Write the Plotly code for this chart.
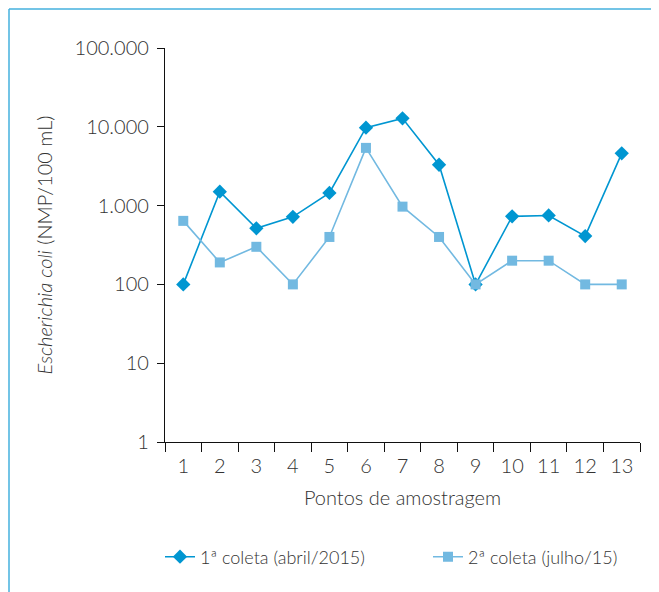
import plotly.graph_objects as go

pontos = [str(i) for i in range(1, 14)]
coleta1 = [100, 1500, 515, 720, 1450, 9750, 12800, 3300, 100, 730, 750, 410, 4600]
coleta2 = [640, 190, 300, 100, 400, 5400, 970, 400, 100, 200, 200, 100, 100]
nome1 = "1ª coleta (abril/2015)"
nome2 = "2ª coleta (julho/15)"
ytickvals = [1, 10, 100, 1000, 10000, 100000]
yticktext = ["1", "10", "100", "1.000", "10.000", "100.000"]

c1 = "#0096d1"
c2 = "#72b9e1"
frame = "#45b0de"
txt = "#333333"
font = "Lato"

# page body has an 8px offset
OFF = 8
W, H = 659, 592
ml, mt = 165 - OFF, 48 - OFF
mr = W - (640 - OFF)
mb = H - (442 - OFF)
pw = W - ml - mr
ph = H - mt - mb

def px2paper_x(px):
    return (px - OFF - ml) / pw

def px2paper_y(py):
    return (H - mb - (py - OFF)) / ph

fig = go.Figure()
fig.add_trace(go.Scatter(
    x=pontos, y=coleta1, name=nome1, mode="lines+markers",
    line=dict(color=c1, width=1.6),
    marker=dict(symbol="diamond", size=11, color=c1),
    legend="legend",
))
fig.add_trace(go.Scatter(
    x=pontos, y=coleta2, name=nome2, mode="lines+markers",
    line=dict(color=c2, width=1.6),
    marker=dict(symbol="square", size=10, color=c2),
    legend="legend2",
))

fs = 20
lf = dict(size=fs, color=txt, weight=300)
legf = dict(size=18, color=txt, weight=300)
fig.update_layout(
    width=W, height=H,
    margin=dict(l=ml, r=mr, t=mt, b=mb, autoexpand=False),
    paper_bgcolor="white", plot_bgcolor="white",
    font=dict(family=font, size=fs, color=txt, weight=300),
    showlegend=True,
    legend=dict(orientation="h", x=px2paper_x(160), xanchor="left",
                y=px2paper_y(557), yanchor="middle",
                font=legf, itemwidth=30, bgcolor="rgba(0,0,0,0)"),
    legend2=dict(orientation="h", x=px2paper_x(428), xanchor="left",
                 y=px2paper_y(557), yanchor="middle",
                 font=legf, itemwidth=30, bgcolor="rgba(0,0,0,0)"),
    xaxis=dict(
        type="category", tickson="boundaries", range=[-0.5, 12.5],
        automargin=False,
        showline=True, linecolor="#111", linewidth=1.3,
        ticks="outside", ticklen=9, tickcolor="#111", tickwidth=1.2,
        ticklabelstandoff=6,
        showgrid=False, zeroline=False,
        tickfont=lf,
        title=dict(text="Pontos de amostragem", standoff=14, font=lf),
    ),
    yaxis=dict(
        type="log", range=[0, 5], automargin=False,
        tickvals=ytickvals, ticktext=yticktext,
        showline=True, linecolor="#111", linewidth=1.3,
        ticks="outside", ticklen=7, tickcolor="#111", tickwidth=1.2,
        ticklabelstandoff=4,
        showgrid=False, zeroline=False,
        tickfont=lf,
        title=dict(text="<i>Escherichia coli</i> (NMP/100 mL)", standoff=16, font=lf),
    ),
    shapes=[
        dict(type="line", xref="paper", yref="paper",
             x0=px2paper_x(9), x1=px2paper_x(9), y0=px2paper_y(9), y1=px2paper_y(610),
             line=dict(color=frame, width=1.5)),
        dict(type="line", xref="paper", yref="paper",
             x0=px2paper_x(9), x1=px2paper_x(680), y0=px2paper_y(9), y1=px2paper_y(9),
             line=dict(color=frame, width=1.5)),
    ],
)

fig.write_html("out.html")
